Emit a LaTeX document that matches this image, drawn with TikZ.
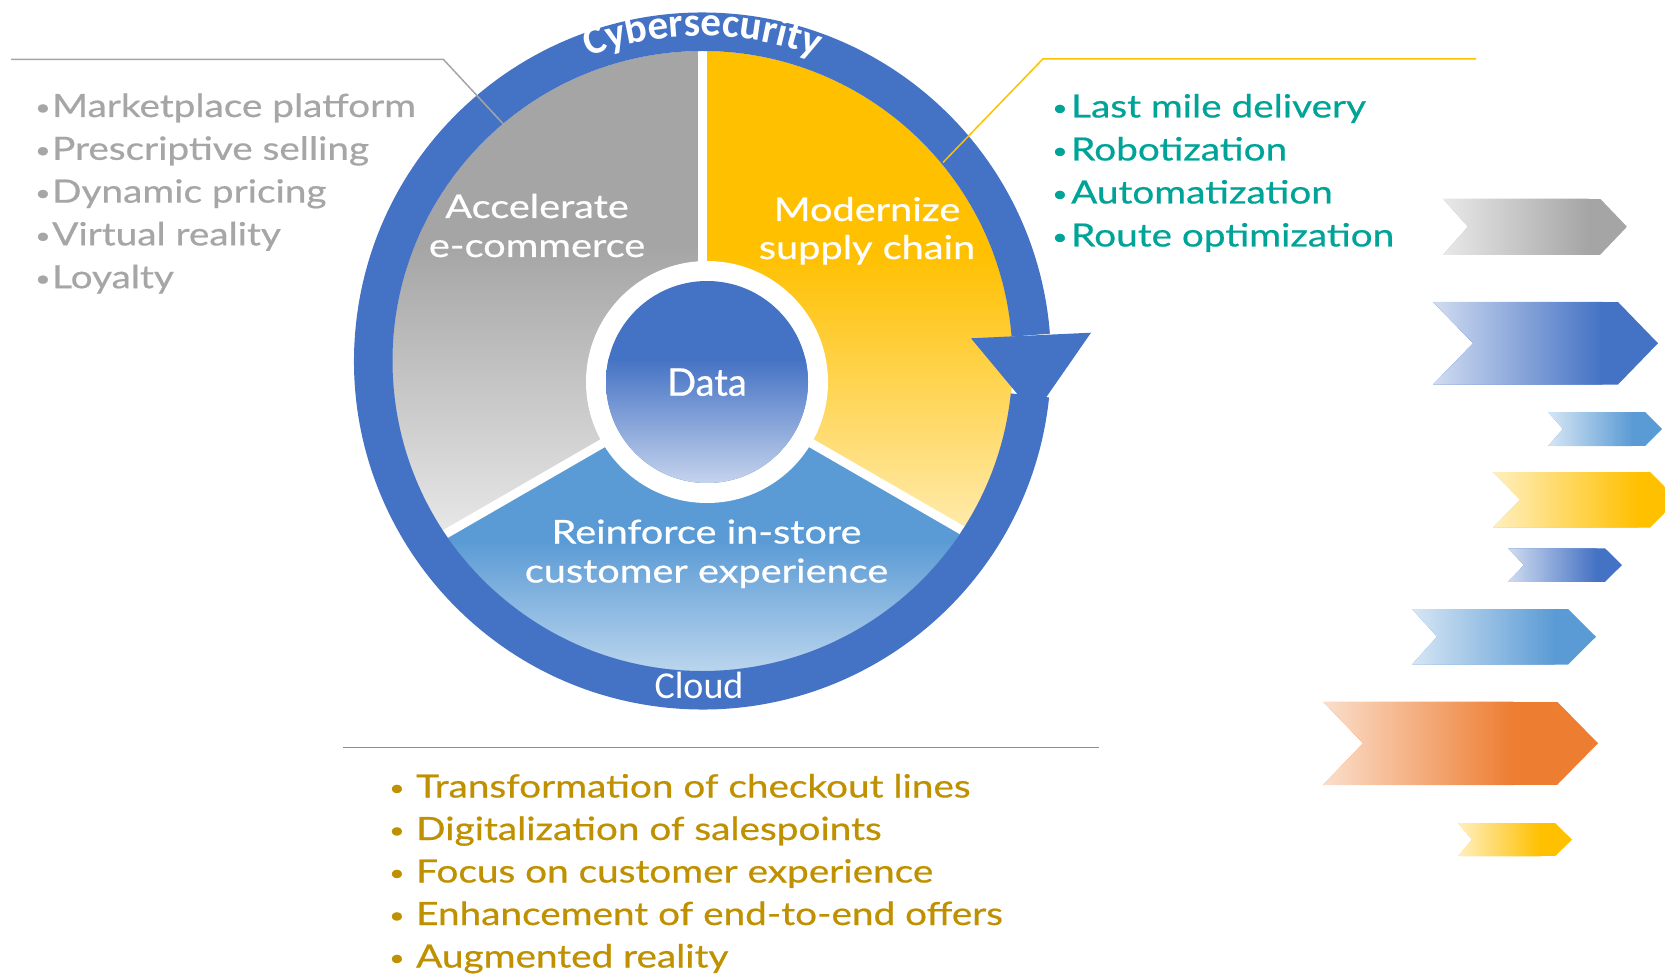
\documentclass[tikz,border=0pt]{standalone}
\usepackage{fontspec}
\setmainfont{Lato}
\newfontfamily\listfont[FakeStretch=1.21,FakeBold=0.6]{Lato}
\newfontfamily\datafont[FakeBold=0.6]{Lato}
\newfontfamily\calfont{Carlito}
\usetikzlibrary{calc,decorations.text}

\definecolor{ringblue}{HTML}{4472C4}
\definecolor{pgray}{HTML}{A5A5A5}
\definecolor{pyellow}{HTML}{FFC000}
\definecolor{pblue}{HTML}{5B9BD5}
\definecolor{porange}{HTML}{ED7D31}
\definecolor{tealtxt}{HTML}{00A398}
\definecolor{goldtxt}{HTML}{BF9000}
\definecolor{graytxt}{HTML}{A6A6A6}

% small list bullet
\newcommand\bul{\raisebox{2pt}{\fontsize{22}{22}\selectfont\char"2022}}

% chevron: tail x, notch x, body end x, tip x, top y, bottom y, colour, end of fade x
\newcommand\drawchev[8]{%
  \begin{scope}
    \clip (#1,-#5) -- (#3,-#5) -- (#4,{-(#5+#6)/2}) -- (#3,-#6) -- (#1,-#6) -- (#2,{-(#5+#6)/2}) -- cycle;
    \fill[#7] (#1,-#5) rectangle (#4,-#6);
    \shade[left color=white, right color=#7] ({#1-(#8-#1)/2},-#5) rectangle ({#8+(#8-#1)/2},-#6);
  \end{scope}}

\begin{document}
\begin{tikzpicture}[x=1pt,y=1pt,
  listtxt/.style={anchor=base west, inner sep=0pt, font=\listfont\fontsize{32}{32}\selectfont},
  wheeltxt/.style={anchor=base, inner sep=0pt, text=white, font=\listfont\fontsize{32.8}{32.8}\selectfont},
  leader/.style={line width=1.5pt}]
\useasboundingbox (0,0) rectangle (1665,-976);

\coordinate (C) at (702.5,-361);
\coordinate (P) at (707,-383);
\coordinate (D) at (707,-382);

% three sectors inside the ring
\begin{scope}
  \clip (C) circle[radius=310];
  \begin{scope}
    \clip (P) -- ($(P)+(90:800)$) -- ($(P)+(150:800)$) -- ($(P)+(210:800)$) -- cycle;
    \fill[pgray] (300,0) rectangle (720,-700);
    \shade[top color=pgray, bottom color=pgray!8] (300,-245) rectangle (720,-605);
  \end{scope}
  \begin{scope}
    \clip (P) -- ($(P)+(90:800)$) -- ($(P)+(30:800)$) -- ($(P)+(-30:800)$) -- cycle;
    \fill[pyellow] (690,0) rectangle (1100,-700);
    \shade[top color=pyellow, bottom color=pyellow!10] (690,-252.5) rectangle (1100,-622.5);
  \end{scope}
  \begin{scope}
    \clip (P) -- ($(P)+(-30:800)$) -- ($(P)+(-90:800)$) -- ($(P)+(210:800)$) -- cycle;
    \fill[pblue] (300,-300) rectangle (1100,-720);
    \shade[top color=pblue, bottom color=pblue!22] (300,-541.5) rectangle (1100,-715.5);
  \end{scope}
  \draw[white, line width=9pt] (P) -- ($(P)+(210:420)$);
  \draw[white, line width=9pt] (P) -- ($(P)+(-30:420)$);
  \draw[white, line width=9pt] (702.5,-383) -- (702.5,0);
\end{scope}

% centre disc
\fill[white] (D) circle[radius=121];
\begin{scope}
  \clip (D) circle[radius=101];
  \fill[ringblue] (600,-270) rectangle (815,-490);
  \shade[top color=ringblue, bottom color=ringblue!8] (600,-358.5) rectangle (815,-524.5);
\end{scope}

% outer ring with arrowhead
\fill[ringblue] ($(C)+(-6:348.5)$) arc[start angle=-6, end angle=-355.5, radius=348.5]
  -- ($(C)+(4.5:310)$) arc[start angle=4.5, end angle=354, radius=310] -- cycle;
\fill[ringblue] (971,-338.3) -- (1091,-332.7) -- (1034.3,-414.4) -- cycle;

\path[decorate, decoration={text along path, text align=center, text color=white,
  text={|\calfont\bfseries\fontsize{41}{41}\selectfont|Cybersecurity}}]
  ($(C)+(140:325)$) arc[start angle=140, end angle=40, radius=325];
\node[anchor=base, inner sep=0pt, text=white, font=\calfont\fontsize{38}{38}\selectfont] (cloud) at (699,-698) {Cloud};

% wheel labels
\node[wheeltxt] (acc1) at (537,-218) {Accelerate};
\node[wheeltxt] (acc2) at (537,-257) {e-commerce};
\node[wheeltxt] (mod1) at (867,-221) {Modernize};
\node[wheeltxt] (mod2) at (867,-259) {supply chain};
\node[wheeltxt] (rei1) at (706.5,-543.5) {Reinforce in-store};
\node[wheeltxt] (rei2) at (706.5,-582.5) {customer experience};
\node[anchor=base, inner sep=0pt, text=white, font=\datafont\fontsize{38}{38}\selectfont] (data) at (707,-395.7) {Data};

% leader lines
\coordinate (g0) at (11,-59.5);
\coordinate (g1) at (443.5,-59.5);
\coordinate (g2) at (503.3,-124);
\draw[leader, pgray] (g0) -- (g1) -- (g2);
\coordinate (y0) at (1476,-59);
\coordinate (y1) at (1042.8,-59);
\coordinate (y2) at (943,-162.5);
\draw[leader, pyellow] (y0) -- (y1) -- (y2);
\coordinate (b0) at (343,-747.6);
\coordinate (b1) at (1099,-747.6);
\draw[leader, pblue] (b0) -- (b1);

% bullet lists
\foreach \t [count=\i] in {Marketplace platform, Prescriptive selling, Dynamic pricing, Virtual reality, Loyalty}
  \node[listtxt, text=graytxt] (gl\i) at (35,{-117-42.8*(\i-1)}) {\makebox[17pt][l]{\bul}\t};
\foreach \t [count=\i] in {Last mile delivery, Robotization, Automatization, Route optimization}
  \node[listtxt, text=tealtxt] (tl\i) at (1052,{-117.5-43*(\i-1)}) {\makebox[19pt][l]{\bul}\t};
\foreach \t [count=\i] in {Transformation of checkout lines, Digitalization of salespoints, Focus on customer experience, Enhancement of end-to-end offers, Augmented reality}
  \node[listtxt, text=goldtxt] (ol\i) at (389,{-797.5-42.5*(\i-1)}) {\makebox[27pt][l]{\bul}\t};

% chevrons
\drawchev{1443}{1468}{1600}{1627}{198.6}{254.9}{pgray}{1540}
\drawchev{1433}{1473}{1618}{1658}{302}{384.5}{ringblue}{1546}
\drawchev{1548}{1563}{1645}{1662}{412}{446}{pblue}{1604}
\drawchev{1493}{1520}{1650}{1678}{472}{527.5}{pyellow}{1590}
\drawchev{1508}{1524}{1605}{1622}{548.3}{581.8}{ringblue}{1567}
\drawchev{1412}{1437}{1568}{1596}{609}{664.5}{pblue}{1507}
\drawchev{1323}{1363}{1557}{1598}{701.5}{785}{porange}{1450}
\drawchev{1458}{1472}{1555}{1572}{823}{856.3}{pyellow}{1513}
\end{tikzpicture}
\end{document}
